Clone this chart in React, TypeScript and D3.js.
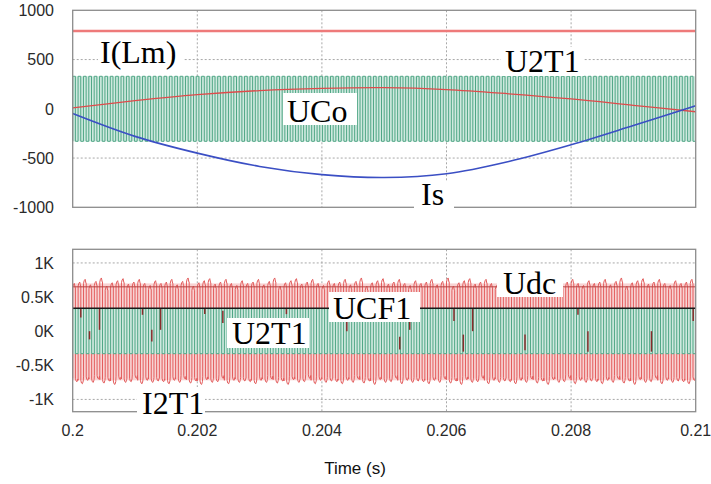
import React from "react";
import * as d3 from "d3";

// ---- data ----
const T_DOMAIN = [0.2, 0.21];
const X_TICKS = [0.2, 0.202, 0.204, 0.206, 0.208, 0.21];
const X_TICK_LABELS = ["0.2", "0.202", "0.204", "0.206", "0.208", "0.21"];
const TOP_Y_TICKS = [1000, 500, 0, -500, -1000];
const BOT_Y_TICKS = [1, 0.5, 0, -0.5, -1];
const BOT_Y_LABELS = ["1K", "0.5K", "0K", "-0.5K", "-1K"];

// top panel
const I_LM = 790;
const UCO_HIGH = 330;
const UCO_LOW = -330;
const UCO_PERIODS = 116;
const U2T1_TOP_T = [0.2, 0.201, 0.202, 0.203, 0.204, 0.205, 0.206, 0.207, 0.208, 0.209, 0.21];
const U2T1_TOP_V = [10, 82, 143, 185, 207, 214, 195, 152, 100, 35, -30];
const IS_T = [0.2, 0.201, 0.202, 0.203, 0.204, 0.205, 0.206, 0.207, 0.208, 0.209, 0.21];
const IS_V = [-48, -280, -450, -585, -668, -698, -660, -535, -365, -170, 30];

// bottom panel (kV)
const UDC = 0.65;
const UCF1 = 0.335;
const U2T1_HIGH = 0.33;
const U2T1_LOW = -0.33;
const I2T1_PERIODS = 115;
const I2T1_PEAKS = [0.7, 0.72, 0.76, 0.68, 0.73, 0.78, 0.66, 0.71, 0.74, 0.77, 0.69, 0.72, 0.76, 0.7, 0.67, 0.74];
const I2T1_TROUGHS = [-0.74, -0.77, -0.72, -0.75, -0.7, -0.76, -0.73, -0.78, -0.71, -0.75, -0.74, -0.69, -0.77, -0.72, -0.75, -0.73];
const SPIKE_T = [0.20013, 0.20027, 0.20043, 0.20112, 0.20127, 0.20141, 0.20212, 0.20241, 0.20343, 0.2044, 0.20525, 0.20541, 0.20612, 0.20627, 0.20642, 0.20726, 0.20811, 0.20827, 0.20929, 0.20996];
const SPIKE_FROM = [0.34, 0.0, 0.34, 0.34, 0.02, 0.34, 0.34, 0.3, 0.34, 0.16, -0.08, 0.17, 0.34, -0.05, 0.34, -0.05, 0.34, 0.0, 0.0, 0.34];
const SPIKE_TO = [0.2, -0.12, 0.02, 0.24, -0.15, 0.02, 0.25, 0.12, 0.25, 0.0, -0.27, 0.02, 0.15, -0.3, 0.0, -0.28, 0.24, -0.3, -0.3, 0.15];

const LEFT = 72.7;
const RIGHT = 695.7;

export default function App() {
  const x = d3.scaleLinear().domain(T_DOMAIN).range([LEFT, RIGHT]);
  const yT = d3.scaleLinear().domain([-1000, 1000]).range([207.3, 10.3]);
  const yB = d3.scaleLinear().domain([-1.18, 1.2]).range([411.7, 249.3]);

  const span = T_DOMAIN[1] - T_DOMAIN[0];

  const sq = (n: number, hi: number, lo: number) => {
    const P = span / n;
    const pts: [number, number][] = [];
    for (let i = 0; i < n; i++) {
      const t0 = T_DOMAIN[0] + i * P;
      const t1 = t0 + P / 2;
      pts.push([t0, lo], [t0, hi], [t1, hi], [t1, lo]);
    }
    pts.push([T_DOMAIN[1], lo]);
    return pts;
  };

  const lineT = d3.line<[number, number]>().x((d) => x(d[0])).y((d) => yT(d[1]));
  const lineB = d3.line<[number, number]>().x((d) => x(d[0])).y((d) => yB(d[1]));
  const smoothT = d3
    .line<[number, number]>()
    .x((d) => x(d[0]))
    .y((d) => yT(d[1]))
    .curve(d3.curveCatmullRom.alpha(0.5));

  const ucoPath = lineT(sq(UCO_PERIODS, UCO_HIGH, UCO_LOW)) || "";
  const u2t1BotPath = lineB(sq(I2T1_PERIODS, U2T1_HIGH, U2T1_LOW)) || "";

  const iPts: [number, number][] = [];
  {
    const P = span / I2T1_PERIODS;
    for (let i = 0; i < I2T1_PERIODS; i++) {
      const t0 = T_DOMAIN[0] + i * P;
      const hi = I2T1_PEAKS[i % I2T1_PEAKS.length];
      const lo = I2T1_TROUGHS[i % I2T1_TROUGHS.length];
      iPts.push(
        [t0, lo + 0.05],
        [t0, hi - 0.06],
        [t0 + 0.12 * P, hi - 0.02],
        [t0 + 0.3 * P, hi],
        [t0 + 0.45 * P, hi - 0.06],
        [t0 + 0.5 * P, hi - 0.06],
        [t0 + 0.5 * P, lo + 0.05],
        [t0 + 0.62 * P, lo + 0.01],
        [t0 + 0.8 * P, lo],
        [t0 + 0.95 * P, lo + 0.04]
      );
    }
  }
  const i2t1Path = lineB(iPts) || "";

  const u2t1TopPath = smoothT(U2T1_TOP_T.map((t, i) => [t, U2T1_TOP_V[i]] as [number, number])) || "";
  const isPath = smoothT(IS_T.map((t, i) => [t, IS_V[i]] as [number, number])) || "";

  const tickFont = "'Liberation Sans', Arial, sans-serif";
  const serif = "'Liberation Serif', 'Times New Roman', serif";
  const grid = { stroke: "#a8a8a8", strokeWidth: 1, strokeDasharray: "2,2" };

  const label = (txt: string, tx: number, ty: number, bx: number, by: number, bw: number, bh: number) => (
    <g key={txt + tx}>
      <rect x={bx} y={by} width={bw} height={bh} fill="#fff" />
      <text x={tx} y={ty} fontFamily={serif} fontSize={32} fill="#000">
        {txt}
      </text>
    </g>
  );

  return (
    <svg
      width={711}
      height={484}
      style={{ position: "absolute", left: 0, top: 0, background: "#fff" }}
    >
      <rect x={0} y={0} width={711} height={484} fill="#fff" />
      {/* ===== top panel ===== */}
      {X_TICKS.slice(1, -1).map((t) => (
        <line key={"gvt" + t} x1={x(t)} x2={x(t)} y1={10.3} y2={207.3} {...grid} />
      ))}
      {TOP_Y_TICKS.slice(1, -1).map((v) => (
        <line key={"ght" + v} x1={LEFT} x2={RIGHT} y1={yT(v)} y2={yT(v)} {...grid} />
      ))}
      <rect
        x={LEFT}
        y={yT(UCO_HIGH)}
        width={RIGHT - LEFT}
        height={yT(UCO_LOW) - yT(UCO_HIGH)}
        fill="#cfe9df"
      />
      <path d={ucoPath} fill="none" stroke="#4fa685" strokeWidth={1} />
      <line x1={LEFT} x2={RIGHT} y1={yT(I_LM)} y2={yT(I_LM)} stroke="#ee7a7a" strokeWidth={2.5} />
      <path d={u2t1TopPath} fill="none" stroke="#dd4b4b" strokeWidth={1.3} />
      <path d={isPath} fill="none" stroke="#3b4fc4" strokeWidth={1.6} />
      <rect x={LEFT} y={10.3} width={RIGHT - LEFT} height={197} fill="none" stroke="#8c8c8c" strokeWidth={1.3} />
      {TOP_Y_TICKS.map((v) => (
        <text
          key={"tyl" + v}
          x={54}
          y={yT(v) + 5.7}
          textAnchor="end"
          fontFamily={tickFont}
          fontSize={16}
          fill="#2a2a2a"
        >
          {v}
        </text>
      ))}
      {label("I(Lm)", 100, 63, 98, 36, 86, 34)}
      {label("UCo", 287, 121.5, 283, 93, 74, 32)}
      {label("U2T1", 505, 71.5, 501, 47, 83, 29)}
      {label("Is", 421, 205, 414, 181, 40, 33)}

      {/* ===== bottom panel ===== */}
      {X_TICKS.slice(1, -1).map((t) => (
        <line key={"bgvt" + t} x1={x(t)} x2={x(t)} y1={249.3} y2={411.7} {...grid} />
      ))}
      {BOT_Y_TICKS.map((v) => (
        <line key={"bght" + v} x1={LEFT} x2={RIGHT} y1={yB(v)} y2={yB(v)} {...grid} />
      ))}
      <rect x={LEFT} y={yB(0.7)} width={RIGHT - LEFT} height={yB(-0.72) - yB(0.7)} fill="#f8d3d3" />
      <path d={i2t1Path} fill="none" stroke="#e35c5c" strokeWidth={1} />
      <line x1={LEFT} x2={RIGHT} y1={yB(UDC)} y2={yB(UDC)} stroke="#b84040" strokeWidth={1} />
      <rect
        x={LEFT}
        y={yB(U2T1_HIGH)}
        width={RIGHT - LEFT}
        height={yB(U2T1_LOW) - yB(U2T1_HIGH)}
        fill="#cfe9df"
      />
      <path d={u2t1BotPath} fill="none" stroke="#4fa685" strokeWidth={1} />
      {SPIKE_T.map((t, i) => (
        <line
          key={"sp" + i}
          x1={x(t)}
          x2={x(t)}
          y1={yB(SPIKE_FROM[i])}
          y2={yB(SPIKE_TO[i])}
          stroke="#8a2c2c"
          strokeWidth={1.5}
        />
      ))}
      <line x1={LEFT} x2={RIGHT} y1={yB(UCF1)} y2={yB(UCF1)} stroke="#1a1a1a" strokeWidth={1.5} />
      <rect x={LEFT} y={249.3} width={RIGHT - LEFT} height={162.4} fill="none" stroke="#8c8c8c" strokeWidth={1.3} />
      {BOT_Y_TICKS.map((v, i) => (
        <text
          key={"byl" + v}
          x={54}
          y={yB(v) + 5.7}
          textAnchor="end"
          fontFamily={tickFont}
          fontSize={16}
          fill="#2a2a2a"
        >
          {BOT_Y_LABELS[i]}
        </text>
      ))}
      {X_TICKS.map((t, i) => (
        <text
          key={"xl" + t}
          x={x(t)}
          y={435.7}
          textAnchor="middle"
          fontFamily={tickFont}
          fontSize={16}
          fill="#2a2a2a"
        >
          {X_TICK_LABELS[i]}
        </text>
      ))}
      {label("Udc", 503, 293.5, 497, 268, 66, 29)}
      {label("UCF1", 333, 318.5, 329, 292, 91, 30)}
      {label("U2T1", 232, 343.5, 227, 318, 82, 30)}
      {label("I2T1", 142, 413.5, 137, 387, 68, 32)}
      <text x={355} y={474} textAnchor="middle" fontFamily={tickFont} fontSize={17} fill="#111">
        Time (s)
      </text>
    </svg>
  );
}
